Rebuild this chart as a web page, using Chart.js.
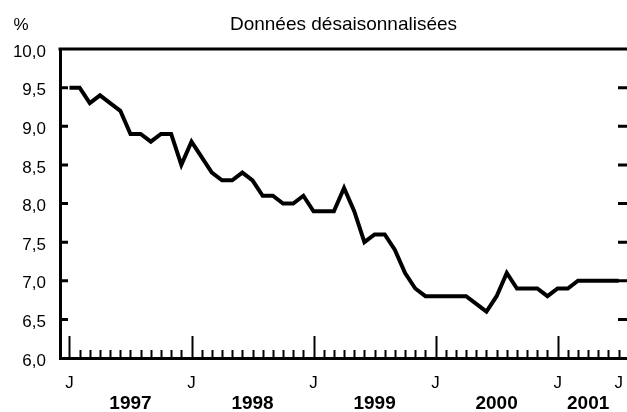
<!DOCTYPE html>
<html>
<head>
<meta charset="utf-8">
<script src="https://cdn.jsdelivr.net/npm/chart.js@4.4.0/dist/chart.umd.min.js"></script>
<style>
  html, body { margin: 0; padding: 0; background: #fff; }
  #wrap { width: 627px; height: 412px; }
</style>
</head>
<body>
<div id="wrap"><canvas id="chart"></canvas></div>
<script>
// Taux mensuel, données désaisonnalisées, janvier 1997 - juillet 2001 (index 0 = janv. 1997)
const rate1997 = [9.5, 9.5, 9.3, 9.4, 9.3, 9.2, 8.9, 8.9, 8.8, 8.9, 8.9, 8.5];
const rate1998 = [8.8, 8.6, 8.4, 8.3, 8.3, 8.4, 8.3, 8.1, 8.1, 8.0, 8.0, 8.1];
const rate1999 = [7.9, 7.9, 7.9, 8.2, 7.9, 7.5, 7.6, 7.6, 7.4, 7.1, 6.9, 6.8];
const rate2000 = [6.8, 6.8, 6.8, 6.8, 6.7, 6.6, 6.8, 7.1, 6.9, 6.9, 6.9, 6.8];
const rate2001 = [6.9, 6.9, 7.0, 7.0, 7.0, 7.0, 7.0];

const years = ['1997', '1998', '1999', '2000', '2001'];
const jMonths = [0, 12, 24, 36, 48, 54];   // janv. de chaque année + juil. 2001
const jLabels = ['J', 'J', 'J', 'J', 'J', 'J'];
const yMin = 6, yMax = 10, yStep = 0.5;

const rates = [].concat(rate1997, rate1998, rate1999, rate2000, rate2001);
const points = rates.map((v, i) => ({ x: i, y: v }));
const monthTicks = rates.map((v, i) => i);
const yearCentres = years.map((y, i) => (jMonths[i] + jMonths[i + 1]) / 2);

const FONT = '"Liberation Sans", Arial, sans-serif';

// pas de marge latérale réservée aux étiquettes de l'axe x
const noSidePad = (s) => { s.paddingLeft = 0; s.paddingRight = 0; };

// cadre haut, graduations intérieures, symbole %
const frame = {
  id: 'frame',
  afterDraw(chart) {
    const { ctx, chartArea: a, scales: { x, y } } = chart;
    ctx.save();
    ctx.strokeStyle = '#000';
    ctx.lineWidth = 3;
    ctx.beginPath();
    ctx.moveTo(a.left - 1.5, a.top);
    ctx.lineTo(a.right, a.top);
    ctx.stroke();
    y.ticks.forEach((t) => {
      if (t.value <= yMin || t.value >= yMax) return;
      const py = y.getPixelForValue(t.value);
      ctx.beginPath();
      ctx.moveTo(a.left, py); ctx.lineTo(a.left + 8, py);
      ctx.moveTo(a.right, py); ctx.lineTo(a.right - 9, py);
      ctx.stroke();
    });
    ctx.lineWidth = 2;
    monthTicks.forEach((m) => {
      const px = Math.round(x.getPixelForValue(m)) + 0.5;
      const len = m % 12 === 0 ? 22 : 8;
      ctx.beginPath();
      ctx.moveTo(px, a.bottom); ctx.lineTo(px, a.bottom - len);
      ctx.stroke();
    });
    ctx.fillStyle = '#000';
    ctx.font = '17px ' + FONT;
    ctx.textAlign = 'center';
    ctx.textBaseline = 'middle';
    ctx.fillText('%', 21, a.top - 24);
    ctx.restore();
  }
};

new Chart(document.getElementById('chart'), {
  type: 'line',
  data: {
    datasets: [{
      data: points,
      borderColor: '#000',
      borderWidth: 4,
      pointRadius: 0,
      tension: 0,
      fill: false
    }]
  },
  options: {
    responsive: true, maintainAspectRatio: false,
    animation: false,
    layout: { padding: 0 },
    plugins: {
      legend: { display: false },
      tooltip: { enabled: false },
      title: {
        display: true,
        text: 'Données désaisonnalisées',
        color: '#000',
        fullSize: false,
        font: { family: FONT, size: 19, weight: 'normal', lineHeight: 1.2 },
        padding: { top: 13, bottom: 13.2 }
      }
    },
    scales: {
      x: {
        type: 'linear', position: 'bottom',
        min: -0.93, max: 54.82,
        afterBuildTicks: (s) => { s.ticks = monthTicks.map((v) => ({ value: v })); },
        afterFit: (s) => { s.height = 34; noSidePad(s); },
        ticks: {
          autoSkip: false, maxRotation: 0, padding: 15, color: '#000',
          font: { family: FONT, size: 17 },
          callback: (v) => { const k = jMonths.indexOf(v); return k >= 0 ? jLabels[k] : ''; }
        },
        grid: { display: false, drawTicks: false },
        border: { display: true, color: '#000', width: 3 }
      },
      yr: {
        type: 'linear', position: 'bottom', axis: 'x',
        min: -0.93, max: 54.82,
        afterBuildTicks: (s) => { s.ticks = yearCentres.map((v) => ({ value: v })); },
        afterFit: (s) => { s.height = 20; noSidePad(s); },
        ticks: {
          autoSkip: false, maxRotation: 0, padding: 0, color: '#000',
          font: { family: FONT, size: 19, weight: 'bold' },
          callback: (v) => years[yearCentres.indexOf(v)]
        },
        grid: { display: false, drawTicks: false },
        border: { display: false }
      },
      y: {
        min: yMin, max: yMax,
        afterFit: (s) => { s.width = 60; },
        ticks: {
          stepSize: yStep, padding: 14, color: '#000', labelOffset: 3,
          font: { family: FONT, size: 17 },
          callback: (v) => v.toFixed(1).replace('.', ',')
        },
        grid: { display: false, drawTicks: false },
        border: { display: true, color: '#000', width: 3 }
      }
    }
  },
  plugins: [frame]
});
</script>
</body>
</html>
